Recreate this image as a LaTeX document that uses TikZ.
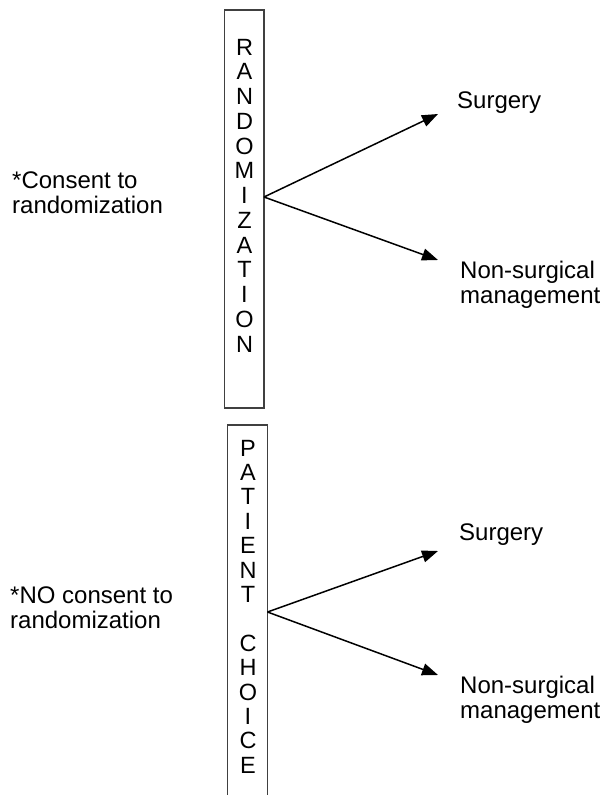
\documentclass[tikz,border=0pt]{standalone}
\usepackage{fontspec}
\setmainfont{Liberation Sans}
\usetikzlibrary{arrows.meta}
\tikzset{
  vbox/.style={draw=black!75, line width=1.1pt, inner sep=0pt, minimum width=39.5pt},
  letter/.style={anchor=base, inner sep=0pt, font=\fontsize{23.5}{25}\selectfont},
  label/.style={anchor=base west, inner sep=0pt, font=\fontsize{24}{25}\selectfont},
  branch/.style={line width=1.5pt, -{Triangle[length=16pt,width=12pt]}}
}
\begin{document}
\begin{tikzpicture}[x=1pt,y=-1pt]
\useasboundingbox (0,0) rectangle (601,795);
\clip (0,0) rectangle (601,795);
% boxes
\node[vbox, minimum height=398pt] (box1) at (244.25,209) {};
\node[vbox, minimum height=380pt] (box2) at (247.5,615) {};
% letters box 1
\foreach \ch [count=\i from 0] in {R,A,N,D,O,M,I,Z,A,T,I,O,N}
  \node[letter] (r\i) at (244.5,55+\i*24.75) {\ch};
% letters box 2
\foreach \ch [count=\i from 0] in {P,A,T,I,E,N,T,{},C,H,O,I,C,E}
  \node[letter] (p\i) at (248,456+\i*24.4) {\ch};
% branch points and tips
\coordinate (a1) at (264,197);
\coordinate (t1u) at (438,114);
\coordinate (t1d) at (438,260);
\coordinate (a2) at (267.5,612);
\coordinate (t2u) at (438,551);
\coordinate (t2d) at (438,675);
\draw[branch] (a1) -- (t1u);
\draw[branch] (a1) -- (t1d);
\draw[branch] (a2) -- (t2u);
\draw[branch] (a2) -- (t2d);
% labels
\node[label] (s1) at (457,108) {Surgery};
\node[label] (n1a) at (460,278) {Non-surgical};
\node[label] (n1b) at (460,303) {management};
\node[label] (c1a) at (12,188) {*Consent to};
\node[label] (c1b) at (12,213) {randomization};
\node[label] (s2) at (459,540) {Surgery};
\node[label] (n2a) at (460,693) {Non-surgical};
\node[label] (n2b) at (460,718) {management};
\node[label] (c2a) at (10,603) {*NO consent to};
\node[label] (c2b) at (10,628) {randomization};
\end{tikzpicture}
\end{document}
